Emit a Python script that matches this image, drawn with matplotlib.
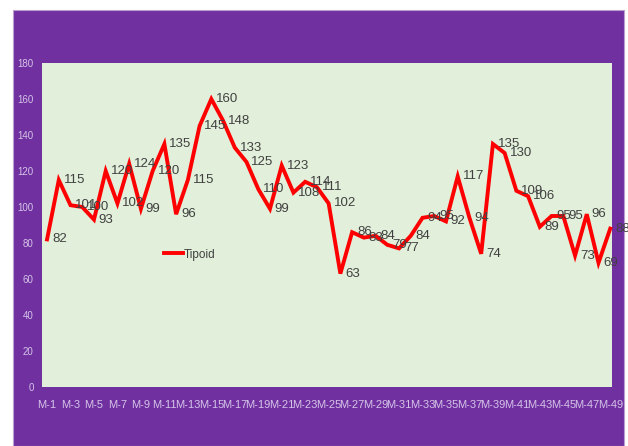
import numpy as np
import matplotlib.pyplot as plt
from matplotlib.patches import Rectangle

months = ['M-%d' % i for i in range(1, 50)]
tipoid = [82, 115, 101, 100, 93, 120, 102, 124, 99, 120,
          135, 96, 115, 145, 160, 148, 133, 125, 110, 99,
          123, 108, 114, 111, 102, 63, 86, 83, 84, 79,
          77, 84, 94, 95, 92, 117, 94, 74, 135, 130,
          109, 106, 89, 95, 95, 73, 96, 69, 88]
yticks = [0, 20, 40, 60, 80, 100, 120, 140, 160, 180]

purple = '#7030A0'
green = '#E2EFDA'
light = '#D5C4E8'
fam = ['Liberation Sans Narrow', 'Liberation Sans', 'DejaVu Sans']

fig = plt.figure(figsize=(6.28, 4.46), dpi=100)
fig.patch.set_facecolor('white')
# purple backdrop panel
fig.patches.append(Rectangle((13 / 628, 0), (624 - 13) / 628, (446 - 10) / 446,
                             transform=fig.transFigure, facecolor=purple,
                             edgecolor='#B9A0D0', linewidth=0.8, zorder=-1))

ax = fig.add_axes([42 / 628, 59 / 446, 570 / 628, 324 / 446])
ax.set_zorder(1)
ax.set_facecolor(green)
for s in ax.spines.values():
    s.set_visible(False)

x = np.arange(len(months))
ax.plot(x, tipoid, color='#FF0000', linewidth=2.8, solid_joinstyle='miter',
        label='Tipoid', clip_on=False)

for xi, yi in zip(x, tipoid):
    ax.annotate(str(yi), (xi, yi), xytext=(3.5, 0), textcoords='offset points',
                ha='left', va='center', fontsize=9.5, color='#404040',
                family=fam, annotation_clip=False)

ax.set_xlim(-0.43, 48.15)
ax.set_ylim(0, 180)
ax.set_yticks(yticks)
ax.set_yticklabels([str(v) for v in yticks], family=fam, fontsize=7, color=light)
ax.set_xticks(x[::2])
ax.set_xticklabels(months[::2], family=fam, fontsize=8, color=light)
ax.tick_params(axis='both', length=0)
ax.tick_params(axis='y', pad=6)
ax.tick_params(axis='x', pad=9)

leg = ax.legend(loc='upper left', bbox_to_anchor=(0.195, 0.46), frameon=False,
                handlelength=1.6, handletextpad=0.1, prop={'family': fam, 'size': 8.5})
for t in leg.get_texts():
    t.set_color('#404040')

fig.savefig('out.png', dpi=100)
